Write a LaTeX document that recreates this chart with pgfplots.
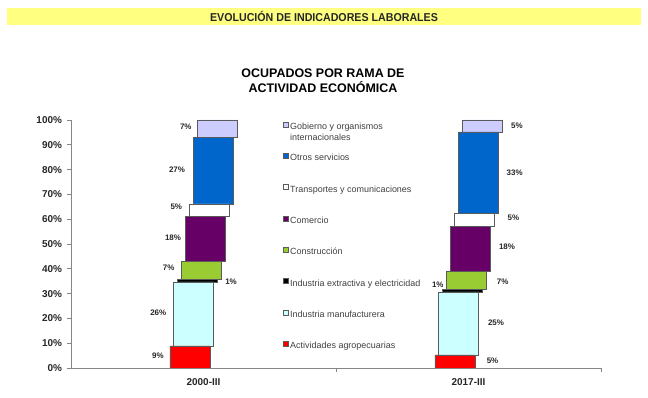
\documentclass[border=0pt]{standalone}
\usepackage{pgfplots}
\pgfplotsset{compat=1.18}
\usepackage{fontspec}
\setmainfont{Liberation Sans}
\newfontfamily\narrowfont[FakeStretch=0.93]{Liberation Sans}
\definecolor{banner}{HTML}{FFFF80}
\definecolor{cAgro}{HTML}{FF0000}
\definecolor{cManuf}{HTML}{CCFFFF}
\definecolor{cExtr}{HTML}{000000}
\definecolor{cConst}{HTML}{99CC33}
\definecolor{cCom}{HTML}{660066}
\definecolor{cTrans}{HTML}{FFFFFF}
\definecolor{cOtros}{HTML}{0066CC}
\definecolor{cGob}{HTML}{CCCCFF}
\definecolor{axgray}{HTML}{868686}
\definecolor{txt}{HTML}{262626}
\definecolor{legtxt}{HTML}{404040}
\definecolor{edge}{HTML}{5A5A5A}

\pgfplotstableread{
x y label
-0.1717 4.8 9
-0.1706 22.2 26
0.1038 34.7 1
-0.1313 40.3 7
-0.1151 52.4 18
-0.1026 64.9 5
-0.1000 79.8 27
-0.0668 97.2 7
1.1830 97.7 5
1.1743 78.8 33
1.1698 60.4 5
1.1453 48.7 18
1.1290 34.8 7
0.8842 33.7 1
1.1038 18.3 25
1.0906 2.8 5
}\labels

\pgfplotsset{
  seg/.style={fill=#1, draw=edge, line width=0.6bp,
    legend image code/.code={\draw[##1, line width=0.5bp] (0bp,0.5bp) rectangle (5bp,5.5bp);}},
  commonax/.style={
    at={(71bp,30bp)}, anchor=south west,
    scale only axis, width=530bp, height=248bp,
    xmin=-0.5, xmax=1.5, ymin=0, ymax=100},
}

\begin{document}
\begin{tikzpicture}
\path[use as bounding box] (0bp,0bp) rectangle (648bp,398bp);
\fill[banner] (7bp,373bp) rectangle (641bp,390bp);
\node[font=\narrowfont\bfseries\fontsize{11.5}{13}\selectfont, text=txt] at (324bp,381.5bp) {EVOLUCIÓN DE INDICADORES LABORALES};
\node[font=\bfseries\fontsize{12.5}{15}\selectfont, text=black, align=center] at (323bp,317.5bp) {OCUPADOS POR RAMA DE\\ACTIVIDAD ECONÓMICA};

\begin{axis}[
  commonax,
  ybar stacked, bar width=40bp,
  axis x line*=bottom, axis y line*=left,
  axis line style={draw=axgray, line width=0.8bp},
  tick style={draw=axgray, line width=0.8bp},
  tick align=outside, major tick length=4bp, minor tick length=4bp,
  ytick={0,10,...,100},
  yticklabel={\pgfmathprintnumber{\tick}\%},
  xtick={0,1}, xticklabels={2000-III,2017-III},
  minor xtick={0.5,1.5},
  major x tick style={draw=none},
  tick label style={font=\bfseries\fontsize{10}{12}\selectfont, text=txt},
  /pgf/number format/assume math mode=true,
  yticklabel style={xshift=-1.5bp},
  xticklabel style={yshift=-3bp},
  reverse legend,
  legend cell align=left,
  legend style={at={(0.4,0.994)}, anchor=north west, draw=none, fill=none,
    inner sep=0pt, row sep=21.6bp,
    font=\fontsize{9}{11}\selectfont, text=legtxt,
    nodes={text height=6bp, text depth=2bp, inner ysep=0pt, inner xsep=1.5bp}},
]
\addplot[seg=cAgro, bar shift=-13.65bp] coordinates {(0,8.9) (1,5.3)};
\addlegendentry{Actividades agropecuarias}
\addplot[seg=cManuf, bar shift=-9.75bp] coordinates {(0,25.8) (1,25.4)};
\addlegendentry{Industria manufacturera}
\addplot[seg=cExtr, bar shift=-5.85bp] coordinates {(0,1.0) (1,0.9)};
\addlegendentry{Industria extractiva y electricidad}
\addplot[seg=cConst, bar shift=-1.95bp] coordinates {(0,7.4) (1,7.2)};
\addlegendentry{Construcción}
\addplot[seg=cCom, bar shift=1.95bp] coordinates {(0,18.1) (1,18.4)};
\addlegendentry{Comercio}
\addplot[seg=cTrans, bar shift=5.85bp] coordinates {(0,5.0) (1,5.2)};
\addlegendentry{Transportes y comunicaciones}
\addplot[seg=cOtros, bar shift=9.75bp] coordinates {(0,26.7) (1,32.8)};
\addlegendentry{Otros servicios}
\addplot[seg=cGob, bar shift=13.65bp] coordinates {(0,7.1) (1,4.8)};
\addlegendentry{\smash{\parbox[t]{4cm}{Gobierno y organismos\\internacionales}}}
\end{axis}

\begin{axis}[
  commonax,
  hide axis, clip=false,
]
\addplot[draw=none, mark=none, nodes near coords={\pgfplotspointmeta\%},
  point meta=explicit symbolic,
  every node near coord/.style={anchor=center, inner sep=0pt, text=txt,
    font=\bfseries\fontsize{8}{9}\selectfont}]
  table[x=x, y=y, meta=label] {\labels};
\end{axis}
\end{tikzpicture}
\end{document}
